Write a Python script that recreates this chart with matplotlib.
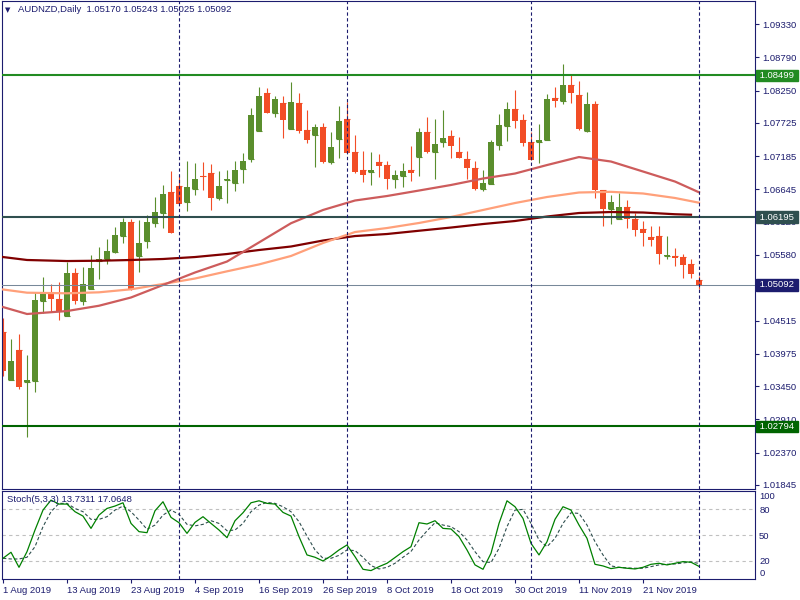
import matplotlib
matplotlib.use('Agg')
import matplotlib.pyplot as plt
import matplotlib.transforms as mtransforms
import numpy as np

plt.rcParams['font.family'] = ['Liberation Sans', 'DejaVu Sans']

symbol_title = 'AUDNZD,Daily  1.05170 1.05243 1.05025 1.05092'
stoch_title = 'Stoch(5,3,3) 13.7311 17.0648'

# daily candles, 1 Aug 2019 .. 2 Dec 2019
opens = [1.04333, 1.03549, 1.04036, 1.03521, 1.03537, 1.04837, 1.04957, 1.04859, 1.04593, 1.05287,
         1.04837, 1.05032, 1.05486, 1.05509, 1.05632, 1.05887, 1.06115, 1.05567, 1.05811, 1.06103,
         1.06266, 1.06602, 1.06699, 1.06444, 1.06656, 1.06862, 1.06911, 1.06509, 1.06792, 1.06753,
         1.06980, 1.07138, 1.07597, 1.08210, 1.07890, 1.08047, 1.07630, 1.08047, 1.07609, 1.07532,
         1.07658, 1.07094, 1.07468, 1.07787, 1.07252, 1.06959, 1.06927, 1.07089, 1.07040, 1.06818,
         1.06862, 1.06959, 1.07175, 1.07576, 1.07256, 1.07419, 1.07511, 1.07252, 1.07138, 1.06992,
         1.06656, 1.06737, 1.07370, 1.07679, 1.07950, 1.07771, 1.07414, 1.07419, 1.07451, 1.08128,
         1.08085, 1.08340, 1.08177, 1.07593, 1.08031, 1.06634, 1.06326, 1.06168, 1.06358, 1.06163,
         1.06001, 1.05871, 1.05887, 1.05567, 1.05563, 1.05546, 1.05433, 1.05170]
highs = [1.04556, 1.04215, 1.04296, 1.03955, 1.04973, 1.05217, 1.05108, 1.05135, 1.05470, 1.05363,
         1.05379, 1.05584, 1.05714, 1.05839, 1.06029, 1.06180, 1.06159, 1.06147, 1.06228, 1.06521,
         1.06716, 1.06943, 1.06878, 1.07105, 1.07073, 1.07089, 1.07057, 1.06943, 1.06959, 1.07105,
         1.07235, 1.07971, 1.08307, 1.08291, 1.08161, 1.08161, 1.08388, 1.08210, 1.07934, 1.07706,
         1.07723, 1.07576, 1.07999, 1.08068, 1.07528, 1.07268, 1.07252, 1.07219, 1.07105, 1.06959,
         1.07073, 1.07349, 1.07641, 1.07820, 1.07783, 1.07934, 1.07609, 1.07495, 1.07268, 1.07105,
         1.06959, 1.07446, 1.07869, 1.08064, 1.08258, 1.07869, 1.07576, 1.07706, 1.08193, 1.08307,
         1.08681, 1.08518, 1.08405, 1.08226, 1.08080, 1.06634, 1.06553, 1.06586, 1.06472, 1.06261,
         1.06131, 1.06050, 1.06050, 1.05887, 1.05697, 1.05595, 1.05514, 1.05243]
lows = [1.03619, 1.03549, 1.03403, 1.02628, 1.03359, 1.04632, 1.04648, 1.04523, 1.04593, 1.04778,
        1.04762, 1.05032, 1.05194, 1.05428, 1.05616, 1.05779, 1.05010, 1.05308, 1.05697, 1.06034,
        1.06017, 1.05941, 1.06412, 1.06298, 1.06558, 1.06639, 1.06314, 1.06477, 1.06428, 1.06623,
        1.06753, 1.07094, 1.07597, 1.07890, 1.07825, 1.07484, 1.07630, 1.07565, 1.07403, 1.07013,
        1.07078, 1.07062, 1.07159, 1.07240, 1.06915, 1.06769, 1.06721, 1.06850, 1.06656, 1.06672,
        1.06688, 1.06785, 1.06867, 1.07235, 1.06818, 1.07338, 1.07159, 1.07159, 1.06818, 1.06639,
        1.06623, 1.06737, 1.07289, 1.07435, 1.07646, 1.07354, 1.07127, 1.07078, 1.07451, 1.07982,
        1.08036, 1.08047, 1.07609, 1.07576, 1.06509, 1.06055, 1.06087, 1.06168, 1.06017, 1.05892,
        1.05730, 1.05730, 1.05438, 1.05519, 1.05405, 1.05210, 1.05210, 1.05025]
closes = [1.03700, 1.03857, 1.03440, 1.03549, 1.04848, 1.04973, 1.04869, 1.04658, 1.05287, 1.04837,
          1.05108, 1.05368, 1.05514, 1.05644, 1.05904, 1.06115, 1.05010, 1.05769, 1.06115, 1.06272,
          1.06569, 1.05941, 1.06412, 1.06683, 1.06813, 1.06846, 1.06509, 1.06699, 1.06818, 1.06959,
          1.07105, 1.07852, 1.08161, 1.07890, 1.08112, 1.07776, 1.08064, 1.07597, 1.07451, 1.07658,
          1.07094, 1.07333, 1.07755, 1.07240, 1.06932, 1.06883, 1.06959, 1.07029, 1.06818, 1.06878,
          1.06943, 1.06915, 1.07576, 1.07252, 1.07381, 1.07479, 1.07354, 1.07159, 1.06997, 1.06656,
          1.06748, 1.07414, 1.07690, 1.07950, 1.07760, 1.07403, 1.07127, 1.07446, 1.08112, 1.08085,
          1.08340, 1.08210, 1.07625, 1.08031, 1.06634, 1.06326, 1.06440, 1.06358, 1.06163, 1.05990,
          1.05941, 1.05827, 1.05600, 1.05579, 1.05535, 1.05421, 1.05275, 1.05092]

# moving averages, read at every 4th bar or so
ma_bars = [0, 3, 8, 12, 16, 20, 24, 28, 32, 36, 40, 44, 48, 52, 56, 60, 64, 68, 72, 76, 80, 84, 87]
ma_fast = [1.04734, 1.04621, 1.04669, 1.04755, 1.04889, 1.05092, 1.05295, 1.05473, 1.05783, 1.06095,
           1.06310, 1.06464, 1.06537, 1.06626, 1.06716, 1.06821, 1.06902, 1.07040, 1.07170, 1.07097,
           1.06935, 1.06772, 1.06597]
ma_mid = [1.05019, 1.04967, 1.04957, 1.04973, 1.05022, 1.05108, 1.05197, 1.05314, 1.05426, 1.05563,
          1.05774, 1.05952, 1.06017, 1.06099, 1.06196, 1.06310, 1.06423, 1.06521, 1.06594, 1.06605,
          1.06578, 1.06505, 1.06428]
ma_slow_bars = [0, 3, 8, 12, 16, 20, 24, 28, 32, 36, 40, 44, 48, 52, 56, 60, 64, 68, 72, 76, 80, 84, 86]
ma_slow = [1.05546, 1.05498, 1.05481, 1.05486, 1.05498, 1.05514, 1.05546, 1.05595, 1.05660, 1.05717,
           1.05814, 1.05887, 1.05920, 1.05973, 1.06025, 1.06082, 1.06131, 1.06204, 1.06261, 1.06277,
           1.06269, 1.06241, 1.06233]

stoch_k = [23.1, 30.1, 12.6, 30.8, 56.0, 79.2, 90.8, 86.2, 86.2, 77.3,
           72.2, 57.9, 73.4, 81.1, 83.9, 87.7, 63.7, 54.1, 52.9, 78.4,
           88.9, 70.7, 64.5, 52.1, 64.9, 71.5, 63.7, 56.0, 47.1, 66.8,
           76.1, 87.7, 90.0, 87.0, 86.2, 76.5, 72.2, 48.3, 27.0, 24.3,
           20.0, 25.8, 32.8, 38.6, 25.0, 10.3, 8.8, 13.4, 17.3, 24.0,
           30.8, 36.6, 64.5, 63.0, 66.8, 57.9, 57.2, 48.3, 32.8, 15.4,
           10.3, 28.9, 63.7, 90.0, 83.1, 69.5, 40.5, 27.0, 42.4, 68.4,
           83.1, 79.2, 61.8, 46.3, 16.1, 14.2, 11.1, 12.6, 11.5, 10.7,
           12.6, 16.1, 17.3, 15.4, 17.3, 19.2, 18.5, 13.7]
stoch_d = [23.1, 22.3, 22.3, 24.3, 36.6, 59.9, 77.3, 87.0, 87.0, 81.1,
           77.3, 68.4, 68.4, 71.5, 79.2, 83.9, 77.3, 67.6, 56.8, 61.8,
           73.4, 79.2, 74.2, 62.6, 60.8, 62.6, 66.8, 63.7, 55.2, 56.0,
           63.7, 77.3, 85.0, 88.1, 87.0, 83.1, 77.3, 65.7, 49.0, 32.8,
           23.1, 23.1, 26.5, 32.8, 32.0, 24.3, 14.6, 10.7, 12.6, 17.3,
           24.3, 31.0, 44.4, 55.0, 64.5, 61.8, 59.9, 54.1, 44.4, 30.8,
           19.2, 18.1, 34.7, 59.9, 79.2, 80.0, 63.7, 44.4, 36.6, 46.3,
           63.7, 76.1, 75.3, 61.8, 42.4, 27.0, 14.2, 12.6, 11.9, 11.5,
           11.5, 13.4, 15.4, 16.1, 16.5, 17.7, 18.8, 17.1]

price_ticks = [1.09330, 1.08790, 1.08250, 1.07725, 1.07185, 1.06645, 1.06120, 1.05580,
               1.05040, 1.04515, 1.03975, 1.03450, 1.02910, 1.02370, 1.01845]
date_ticks = [0, 8, 16, 24, 32, 40, 48, 56, 64, 72, 80]
date_labels = ['1 Aug 2019', '13 Aug 2019', '23 Aug 2019', '4 Sep 2019', '16 Sep 2019',
               '26 Sep 2019', '8 Oct 2019', '18 Oct 2019', '30 Oct 2019', '11 Nov 2019',
               '21 Nov 2019']
month_starts = [22, 43, 66, 87]
resistance = 1.08499
pivot = 1.06195
support = 1.02794
last_price = 1.05092

NAVY = '#1c1c6e'
GREEN = '#5a8e2d'
RED = '#f24d26'
W, H = 800, 600

fig = plt.figure(figsize=(8, 6), dpi=100)


def px_axes(x0, y0, x1, y1):
    return fig.add_axes([x0 / W, 1 - y1 / H, (x1 - x0) / W, (y1 - y0) / H])


ax = px_axes(2, 1, 755, 488.5)
axs = px_axes(2, 491, 755, 579)

x = np.arange(len(opens))
o = np.array(opens)
c = np.array(closes)
col = np.where(c >= o, GREEN, RED)

# candles
ax.vlines(x, lows, highs, colors=col, lw=0.8, zorder=2)
ax.bar(x, np.abs(c - o), bottom=np.minimum(o, c), width=0.64, color=col, linewidth=0, zorder=2)
ax.hlines(o, x - 0.32, x + 0.32, colors=col, lw=0.8, zorder=2)

# moving averages
ax.plot(ma_slow_bars, ma_slow, color='#800000', lw=1.6, zorder=3)
ax.plot(ma_bars, ma_mid, color='#ffa07a', lw=1.6, zorder=3)
ax.plot(ma_bars, ma_fast, color='#cd5c5c', lw=1.6, zorder=3)

# horizontal levels
ax.axhline(resistance, color='#228b22', lw=1.5, zorder=4)
ax.axhline(pivot, color='#2f4f4f', lw=1.5, zorder=4)
ax.axhline(support, color='#006400', lw=1.5, zorder=4)
ax.axhline(last_price, color='#778899', lw=0.75, zorder=4)

for a in (ax, axs):
    for s in month_starts:
        a.axvline(s, color=NAVY, lw=0.8, dashes=(3, 2.2), zorder=5)
    a.set_xlim(-0.125, 94)
    for sp in a.spines.values():
        sp.set_color(NAVY)
        sp.set_linewidth(0.8)

ax.set_ylim(1.01787, 1.09704)
ax.set_xticks([])
ax.yaxis.tick_right()
ax.set_yticks(price_ticks)
ax.set_yticklabels([f'{p:.5f}' for p in price_ticks])
ax.tick_params(axis='y', direction='out', length=3, width=0.8, color=NAVY,
               labelcolor=NAVY, labelsize=6.8, pad=2)

trans = mtransforms.blended_transform_factory(ax.transAxes, ax.transData)
for price, fc in [(resistance, '#228b22'), (pivot, '#2f4f4f'),
                  (last_price, '#1c1c6e'), (support, '#006400')]:
    ax.text(1.0025, price, f' {price:.5f} ', transform=trans, ha='left', va='center',
            color='white', fontsize=6.8, clip_on=False, zorder=10,
            bbox=dict(boxstyle='square,pad=0.12', fc=fc, ec=fc))

# stochastic
for lvl in (20, 50, 80):
    axs.axhline(lvl, color='#c0c0c0', lw=0.8, dashes=(3, 3), zorder=1)
axs.plot(x, stoch_d, color='#2f4f4f', lw=0.8, dashes=(3, 2), zorder=3)
axs.plot(x, stoch_k, color='#008000', lw=0.9, zorder=4)
axs.set_ylim(-1, 101.4)
axs.yaxis.tick_right()
axs.set_yticks([0, 20, 50, 80, 100])
axs.set_yticklabels(['0', '20', '50', '80', '100'])
axs.tick_params(axis='y', direction='out', length=0, labelcolor=NAVY, labelsize=6.8, pad=3)
labs = axs.get_yticklabels()
labs[0].set_va('bottom')
labs[-1].set_va('top')
axs.set_xticks(date_ticks)
axs.set_xticklabels(date_labels, ha='left')
axs.tick_params(axis='x', direction='out', length=3, width=0.8, color=NAVY,
                labelcolor=NAVY, labelsize=6.8, pad=2)

fig.text(8 / W, 1 - 10 / H, '▼', fontsize=5, color=NAVY, va='center', ha='center',
         family=['DejaVu Sans'])
fig.text(18 / W, 1 - 10 / H, symbol_title, fontsize=6.8, color=NAVY, va='center')
fig.text(7 / W, 1 - 499 / H, stoch_title, fontsize=6.8, color=NAVY, va='center')

fig.savefig('out.png', dpi=100, facecolor='white')
